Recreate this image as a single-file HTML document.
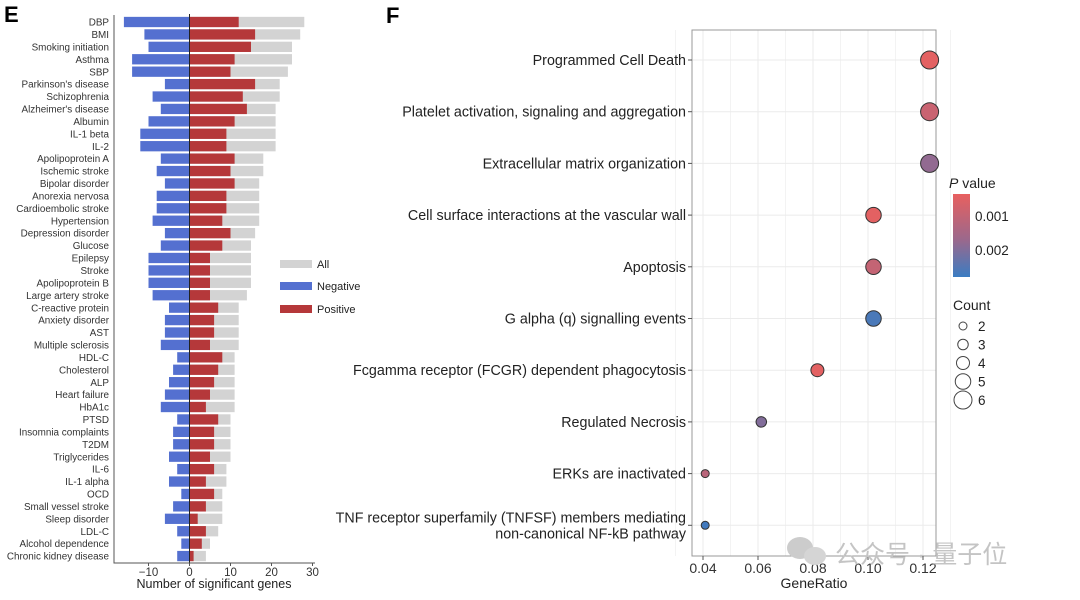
<!DOCTYPE html>
<html><head><meta charset="utf-8"><style>
body{margin:0;background:#fff;}
svg{display:block;font-family:"Liberation Sans","Noto Sans CJK SC",sans-serif;}
</style></head><body>
<svg id="chart" width="1080" height="600" viewBox="0 0 1080 600">
<text x="4" y="22" font-size="22" font-weight="bold">E</text>
<text x="386" y="23" font-size="22" font-weight="bold">F</text>
<g id="left"></g>
<g id="right"></g>
<g>
<ellipse cx="800" cy="548" rx="13" ry="11" fill="#ccc"/>
<ellipse cx="815" cy="556" rx="11" ry="9" fill="#d5d5d5"/>
<text x="835" y="563" font-size="25" fill="#c4c4c4">公众号 · 量子位</text>
</g>
</svg>
<script>
const traits=["DBP","BMI","Smoking initiation","Asthma","SBP","Parkinson's disease","Schizophrenia","Alzheimer's disease","Albumin","IL-1 beta","IL-2","Apolipoprotein A","Ischemic stroke","Bipolar disorder","Anorexia nervosa","Cardioembolic stroke","Hypertension","Depression disorder","Glucose","Epilepsy","Stroke","Apolipoprotein B","Large artery stroke","C-reactive protein","Anxiety disorder","AST","Multiple sclerosis","HDL-C","Cholesterol","ALP","Heart failure","HbA1c","PTSD","Insomnia complaints","T2DM","Triglycerides","IL-6","IL-1 alpha","OCD","Small vessel stroke","Sleep disorder","LDL-C","Alcohol dependence","Chronic kidney disease"];
const negVals=[16,11,10,14,14,6,9,7,10,12,12,7,8,6,8,8,9,6,7,10,10,10,9,5,6,6,7,3,4,5,6,7,3,4,4,5,3,5,2,4,6,3,2,3];
const posVals=[12,16,15,11,10,16,13,14,11,9,9,11,10,11,9,9,8,10,8,5,5,5,5,7,6,6,5,8,7,6,5,4,7,6,6,5,6,4,6,4,2,4,3,1];
const allVals=[28,27,25,25,24,22,22,21,21,21,21,18,18,17,17,17,17,16,15,15,15,15,14,12,12,12,12,11,11,11,11,11,10,10,10,10,9,9,8,8,8,7,5,4];
const xTicksL=[-10,0,10,20,30];

const pathways=["Programmed Cell Death","Platelet activation, signaling and aggregation","Extracellular matrix organization","Cell surface interactions at the vascular wall","Apoptosis","G alpha (q) signalling events","Fcgamma receptor (FCGR) dependent phagocytosis","Regulated Necrosis","ERKs are inactivated","TNF receptor superfamily (TNFSF) members mediating|non-canonical NF-kB pathway"];
const geneRatio=[0.1224,0.1224,0.1224,0.102,0.102,0.102,0.0816,0.0612,0.0408,0.0408];
const counts=[6,6,6,5,5,5,4,3,2,2];
const pvals=[0.0004,0.0009,0.0019,0.0004,0.001,0.0028,0.0004,0.0021,0.0012,0.0029];
const xTicksR=[0.04,0.06,0.08,0.10,0.12];
const countLegend=[2,3,4,5,6];

const NS="http://www.w3.org/2000/svg";
function mk(p,t,a){const e=document.createElementNS(NS,t);for(const k in a)e.setAttribute(k,a[k]);p.appendChild(e);return e;}

// Left chart
const L=document.getElementById('left');
const x0=189.5, pu=4.1;
const xL=v=>x0+v*pu;
const yL=i=>22+i*12.42;
const bh=10.3;
traits.forEach((t,i)=>{
  const y=yL(i);
  let r=mk(L,'rect',{x:xL(0),y:y-bh/2,width:xL(allVals[i])-xL(0),height:bh,fill:'#d3d3d3'});
  
  r=mk(L,'rect',{x:xL(-negVals[i]),y:y-bh/2,width:xL(0)-xL(-negVals[i]),height:bh,fill:'#5470d0'});
  
  r=mk(L,'rect',{x:xL(0),y:y-bh/2,width:xL(posVals[i])-xL(0),height:bh,fill:'#b5383a'});
  
  const tx=mk(L,'text',{x:109,y:y+3.6,'font-size':9.9,'text-anchor':'end',fill:'#333'});
  tx.textContent=t;
  
});
mk(L,'line',{x1:x0,y1:14,x2:x0,y2:563,stroke:'#222','stroke-width':1});
const axl=mk(L,'path',{d:'M114,15V563H315',fill:'none',stroke:'#555','stroke-width':1});

xTicksL.forEach(v=>{
  mk(L,'line',{x1:xL(v),y1:563,x2:xL(v),y2:566,stroke:'#555'});
  const t=mk(L,'text',{x:xL(v),y:576,'font-size':11.5,'text-anchor':'middle',fill:'#333'});
  t.textContent=(v<0?'\u2212'+(-v):v);
  
});
const xt=mk(L,'text',{x:214,y:588,'font-size':12.5,'text-anchor':'middle',fill:'#222'});
xt.textContent='Number of significant genes';

[['All','#d3d3d3',264],['Negative','#5470d0',286],['Positive','#b5383a',309]].forEach(d=>{
  const g=mk(L,'g',{});
  
  mk(g,'rect',{x:280,y:d[2]-4,width:32,height:8,fill:d[1]});
  const t=mk(g,'text',{x:317,y:d[2]+4,'font-size':11,fill:'#222'});t.textContent=d[0];
});

// Right chart
const R=document.getElementById('right');
const bx0=692,bx1=936,by0=30,by1=556;
const xR=v=>703+(v-0.04)/0.02*55;
const yR=i=>60+i*51.7;
const rR=c=>1.5+c*1.25;
function pcol(p){
  const tt=Math.max(0,Math.min(1,(p-0.0003)/(0.0027)));
  const a=[232,96,95],m=[155,104,140],b=[58,124,194];
  let c;
  if(tt<0.55){const s=tt/0.55;c=a.map((v,k)=>v+(m[k]-v)*s);}else{const s=(tt-0.55)/0.45;c=m.map((v,k)=>v+(b[k]-v)*s);}
  return 'rgb('+c.map(Math.round).join(',')+')';
}
for(let v=0.03;v<=0.13;v+=0.01){mk(R,'line',{x1:xR(v),y1:by0,x2:xR(v),y2:by1,stroke:Math.round(v*100)%2==0?'#ebebeb':'#f3f3f3'});}
pathways.forEach((p,i)=>mk(R,'line',{x1:bx0,y1:yR(i),x2:bx1,y2:yR(i),stroke:'#ebebeb'}));
const box=mk(R,'rect',{x:bx0,y:by0,width:bx1-bx0,height:by1-by0,fill:'none',stroke:'#999'});

pathways.forEach((p,i)=>{
  const y=yR(i);
  mk(R,'line',{x1:bx0-4,y1:y,x2:bx0,y2:y,stroke:'#555'});
  const parts=p.split('|');
  parts.forEach((s,k)=>{
    const t=mk(R,'text',{x:686,y:y+5+(k-(parts.length-1)/2)*16,'font-size':14.3,'text-anchor':'end',fill:'#222'});
    t.textContent=s;
    
  });
  const c=mk(R,'circle',{cx:xR(geneRatio[i]),cy:y,r:rR(counts[i]),fill:pcol(pvals[i]),stroke:'#333','stroke-width':1});
  
});
xTicksR.forEach(v=>{
  mk(R,'line',{x1:xR(v),y1:by1,x2:xR(v),y2:by1+4,stroke:'#555'});
  const t=mk(R,'text',{x:xR(v),y:573,'font-size':14,'text-anchor':'middle',fill:'#333'});
  t.textContent=v.toFixed(2);
  
});
const gt=mk(R,'text',{x:814,y:588,'font-size':14,'text-anchor':'middle',fill:'#222'});
gt.textContent='GeneRatio';

const defs=mk(R,'defs',{});
const lg=mk(defs,'linearGradient',{id:'pg',x1:0,y1:0,x2:0,y2:1});
mk(lg,'stop',{offset:'0','stop-color':'#e8605f'});
mk(lg,'stop',{offset:'0.55','stop-color':'#9b688c'});
mk(lg,'stop',{offset:'1','stop-color':'#3a7cc2'});
const pt=mk(R,'text',{x:949,y:188,'font-size':14,fill:'#222'});
pt.innerHTML='<tspan font-style="italic">P</tspan> value';

const cb=mk(R,'rect',{x:953,y:194,width:17,height:83,fill:'url(#pg)'});

[[0.001,216],[0.002,250]].forEach(d=>{
  const t=mk(R,'text',{x:975,y:d[1]+5,'font-size':13.5,fill:'#222'});t.textContent=d[0].toFixed(3);
  
});
const ct=mk(R,'text',{x:953,y:310,'font-size':14,fill:'#222'});ct.textContent='Count';

countLegend.forEach((c,k)=>{
  const y=326+k*18.5;
  const g=mk(R,'g',{});
  
  mk(g,'circle',{cx:963,cy:y,r:rR(c),fill:'none',stroke:'#444'});
  const t=mk(g,'text',{x:978,y:y+5,'font-size':13.5,fill:'#222'});t.textContent=c;
});
</script>
</body></html>
